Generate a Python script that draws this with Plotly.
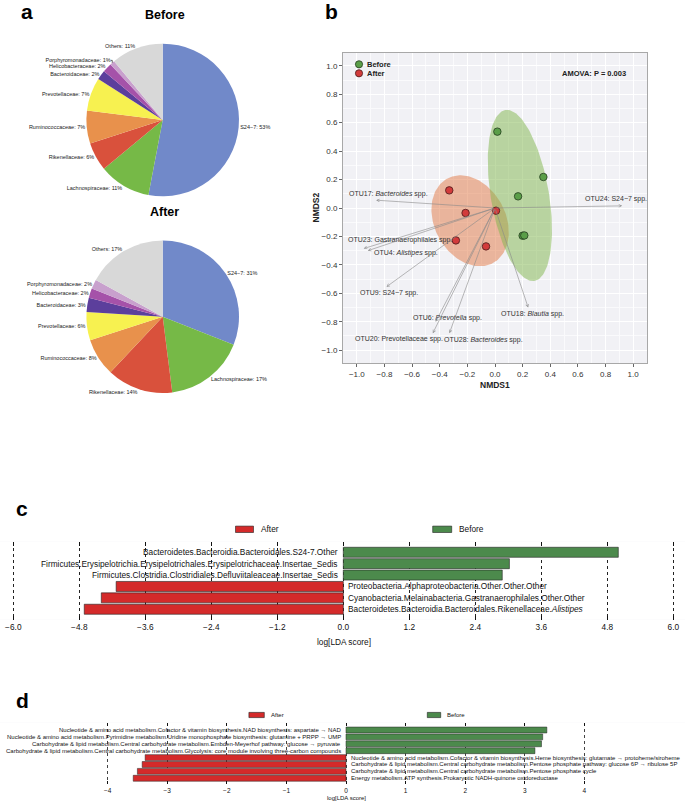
import numpy as np
import plotly.graph_objects as go

W, H = 685, 805
def px(x):
    return x / W
def py(y):
    return 1 - y / H

FONT = "Liberation Sans, Arial, sans-serif"
NARROW = "Liberation Sans Narrow, Arial Narrow, Liberation Sans, sans-serif"

# ---------------- Panel a data ----------------
pie_labels = ["S24−7", "Lachnospiraceae", "Rikenellaceae", "Ruminococcaceae", "Prevotellaceae",
              "Bacteroidaceae", "Helicobacteraceae", "Porphyromonadaceae", "Others"]
before_pct = [53, 11, 6, 7, 7, 2, 2, 1, 11]
after_pct = [31, 17, 14, 8, 6, 3, 2, 2, 17]
pie_colors = ["#7189C9", "#76B947", "#D9513C", "#E8914C", "#F7F150",
              "#5C3F9C", "#A552A9", "#C8A0CD", "#D8D8D8"]

# ---------------- Panel b data ----------------
before_x = [0.017, 0.350, 0.167, 0.200, 0.212]
before_y = [0.537, 0.218, 0.082, -0.195, -0.193]
after_x = [-0.331, -0.213, 0.007, -0.283, -0.065]
after_y = [0.124, -0.035, -0.019, -0.228, -0.270]

otu_names = ["OTU17: <i>Bacteroides</i> spp.", "OTU24: S24−7 spp.", "OTU23: Gastranaerophilales spp.",
             "OTU4: <i>Alistipes</i> spp.", "OTU9: S24−7 spp.", "OTU6: <i>Prevotella</i> spp.",
             "OTU20: Prevotellaceae spp.", "OTU28: <i>Bacteroides</i> spp.", "OTU18: <i>Blautia</i> spp."]
otu_x = [-0.86, 0.92, -0.95, -0.92, -0.785, -0.43, -0.45, -0.33, 0.24]
otu_y = [0.055, 0.015, -0.285, -0.300, -0.554, -0.800, -0.880, -0.880, -0.700]
otu_label_x = [-1.07, 0.64, -1.075, -0.89, -0.99, -0.61, -1.03, -0.386, 0.03]
otu_label_y = [0.10, 0.063, -0.225, -0.32, -0.596, -0.777, -0.918, -0.93, -0.742]

# ellipse parameters: centre x, centre y, semi-major, semi-minor, angle (deg)
ell_before = [0.18, 0.088, 0.61, 0.21, 100]
ell_after = [-0.18, -0.09, 0.34, 0.255, 121]

# ---------------- Panel c data ----------------
lda_taxa = ["Bacteroidetes.Bacteroidia.Bacteroidales.S24-7.Other",
            "Firmicutes.Erysipelotrichia.Erysipelotrichales.Erysipelotrichaceae.Insertae_Sedis",
            "Firmicutes.Clostridia.Clostridiales.Defluviitaleaceae.Insertae_Sedis",
            "Proteobacteria.Alphaproteobacteria.Other.Other.Other",
            "Cyanobacteria.Melainabacteria.Gastranaerophilales.Other.Other",
            "Bacteroidetes.Bacteroidia.Bacteroidales.Rikenellaceae.<i>Alistipes</i>"]
lda_scores = [5.00, 3.02, 2.89, -4.13, -4.40, -4.71]
lda_ticks = [-6.0, -4.8, -3.6, -2.4, -1.2, 0.0, 1.2, 2.4, 3.6, 4.8, 6.0]

# ---------------- Panel d data ----------------
path_names = [
    "Nucleotide & amino acid metabolism.Cofactor & vitamin biosynthesis.NAD biosynthesis: aspartate → NAD",
    "Nucleotide & amino acid metabolism.Pyrimidine metabolism.Uridine monophosphate biosynthesis: glutamine + PRPP → UMP",
    "Carbohydrate & lipid metabolism.Central carbohydrate metabolism.Embden-Meyerhof pathway: glucose → pyruvate",
    "Carbohydrate & lipid metabolism.Central carbohydrate metabolism.Glycolysis: core module involving three-carbon compounds",
    "Nucleotide & amino acid metabolism.Cofactor & vitamin biosynthesis.Heme biosynthesis: glutamate → protoheme/siroheme",
    "Carbohydrate & lipid metabolism.Central carbohydrate metabolism.Pentose phosphate pathway: glucose 6P → ribulose 5P",
    "Carbohydrate & lipid metabolism.Central carbohydrate metabolism.Pentose phosphate cycle",
    "Energy metabolism.ATP synthesis.Prokaryotic NADH-quinone oxidoreductase"]
path_scores = [3.37, 3.30, 3.28, 3.17, -3.37, -3.42, -3.50, -3.57]
path_ticks = [-4, -3, -2, -1, 0, 1, 2, 3, 4]

GREEN = "#4C8A4C"
RED = "#D42A2A"

fig = go.Figure()

# ---------- Pies ----------
for vals, dom in [(before_pct, dict(x=[px(86.4), px(239)], y=[py(196.3), py(43.7)])),
                  (after_pct, dict(x=[px(86.4), px(239)], y=[py(393), py(240.4)]))]:
    fig.add_trace(go.Pie(values=vals, labels=pie_labels, sort=False, direction="clockwise",
                         rotation=0, domain=dom, textposition="outside",
                         texttemplate="%{label}: %{value}%",
                         textfont=dict(size=5.5, color="#222", family=FONT),
                         marker=dict(colors=pie_colors, line=dict(width=0)),
                         showlegend=False, hoverinfo="skip"))

# ---------- NMDS ----------
def ellipse_xy(p, n=160):
    cx, cy, a, b, ang = p
    t = np.linspace(0, 2 * np.pi, n)
    th = np.radians(ang)
    x = cx + a * np.cos(t) * np.cos(th) - b * np.sin(t) * np.sin(th)
    y = cy + a * np.cos(t) * np.sin(th) + b * np.sin(t) * np.cos(th)
    return x, y

ex, ey = ellipse_xy(ell_after)
fig.add_trace(go.Scatter(x=ex, y=ey, fill="toself", mode="lines", line=dict(width=0),
                         fillcolor="rgba(225,119,67,0.5)", showlegend=False, hoverinfo="skip",
                         xaxis="x", yaxis="y"))
ex, ey = ellipse_xy(ell_before)
fig.add_trace(go.Scatter(x=ex, y=ey, fill="toself", mode="lines", line=dict(width=0),
                         fillcolor="rgba(127,181,75,0.5)", showlegend=False, hoverinfo="skip",
                         xaxis="x", yaxis="y"))
fig.add_trace(go.Scatter(x=before_x, y=before_y, mode="markers",
                         marker=dict(size=7.5, color="#5A9E48", line=dict(color="#263D20", width=0.8)),
                         showlegend=False, xaxis="x", yaxis="y"))
fig.add_trace(go.Scatter(x=after_x, y=after_y, mode="markers",
                         marker=dict(size=7.5, color="#D23B3B", line=dict(color="#4A1A1A", width=0.8)),
                         showlegend=False, xaxis="x", yaxis="y"))

# ---------- LDA bars (c) ----------
c_idx = list(range(len(lda_taxa)))
fig.add_trace(go.Bar(x=lda_scores, y=c_idx, orientation="h", width=0.88,
                     marker=dict(color=[GREEN if v > 0 else RED for v in lda_scores],
                                 line=dict(color="#222", width=0.6)),
                     showlegend=False, xaxis="x2", yaxis="y2", hoverinfo="skip"))
# ---------- LDA bars (d) ----------
d_idx = list(range(len(path_names)))
fig.add_trace(go.Bar(x=path_scores, y=d_idx, orientation="h", width=0.86,
                     marker=dict(color=[GREEN if v > 0 else RED for v in path_scores],
                                 line=dict(color="#222", width=0.5)),
                     showlegend=False, xaxis="x3", yaxis="y3", hoverinfo="skip"))

ann = []
shapes = []

def pann(text, x, y, size, xanchor="center", bold=False, family=FONT, color="#222", angle=0):
    ann.append(dict(text=f"<b>{text}</b>" if bold else text, x=px(x), y=py(y),
                    xref="paper", yref="paper", xanchor=xanchor, yanchor="middle",
                    showarrow=False, textangle=angle,
                    font=dict(size=size, family=family, color=color)))

# panel letters and pie titles
for t, x, y in [("a", 27, 12), ("b", 331, 12), ("c", 22, 508), ("d", 22, 700)]:
    pann(t, x, y, 21, bold=True, color="black")
pann("Before", 165, 15, 12.5, bold=True, color="black")
pann("After", 164, 212, 12.5, bold=True, color="black")

# biplot arrows and labels
for nm, hx, hy, lx, ly in zip(otu_names, otu_x, otu_y, otu_label_x, otu_label_y):
    ann.append(dict(x=hx, y=hy, ax=0, ay=0, xref="x", yref="y", axref="x", ayref="y",
                    showarrow=True, arrowhead=5, arrowsize=0.9, arrowwidth=0.6,
                    arrowcolor="#8A8A8A", text="", standoff=0, startstandoff=0))
    ann.append(dict(x=lx, y=ly, xref="x", yref="y", text=nm, showarrow=False,
                    xanchor="left", yanchor="middle",
                    font=dict(size=7.0, family=FONT, color="#333")))

# NMDS legend + text
for lab, col, lc, y in [("Before", "#5A9E48", "#263D20", 64.3), ("After", "#D23B3B", "#4A1A1A", 73.3)]:
    shapes.append(dict(type="circle", xref="paper", yref="paper", xsizemode="pixel", ysizemode="pixel",
                       xanchor=px(359), yanchor=py(y), x0=-3.6, x1=3.6, y0=-3.6, y1=3.6,
                       fillcolor=col, line=dict(color=lc, width=0.8)))
    pann(lab, 365, y, 7.5, xanchor="left", bold=True)
pann("AMOVA: P = 0.003", 628, 73.3, 7.5, xanchor="right", bold=True)
pann("NMDS1", 495, 384.5, 8.5, bold=True)
pann("NMDS2", 315.5, 208, 8.5, bold=True, angle=-90)

# bar labels (c)
for i, (nm, v) in enumerate(zip(lda_taxa, lda_scores)):
    ann.append(dict(x=0, y=i, xref="x2", yref="y2", text=nm, showarrow=False,
                    xanchor="right" if v > 0 else "left", yanchor="middle",
                    xshift=-3 if v > 0 else 3,
                    font=dict(size=8.3, family=NARROW, color="#111")))
# bar labels (d)
for i, (nm, v) in enumerate(zip(path_names, path_scores)):
    ann.append(dict(x=0, y=i, xref="x3", yref="y3", text=nm, showarrow=False,
                    xanchor="right" if v > 0 else "left", yanchor="middle",
                    xshift=-3 if v > 0 else 3,
                    font=dict(size=6.0, family=FONT, color="#111")))

# legends for c and d
for (x0, x1, tx, lab, col, y, hh, fs) in [
        (235.5, 253.5, 259, "After", RED, 529.3, 3.2, 8.3),
        (432.7, 451.7, 457.3, "Before", GREEN, 529.3, 3.2, 8.3),
        (248.9, 264.3, 268.5, "After", RED, 715, 2.6, 6.0),
        (427.3, 440.7, 445, "Before", GREEN, 715, 2.6, 6.0)]:
    shapes.append(dict(type="rect", xref="paper", yref="paper", x0=px(x0), x1=px(x1),
                       y0=py(y + hh), y1=py(y - hh), fillcolor=col, line=dict(color="#222", width=0.6)))
    pann(lab, tx, y, fs, xanchor="left", family=NARROW if fs > 7 else FONT, color="#111")

pann("log[LDA score]", 344, 642, 8.3, family=NARROW, color="#111")
pann("log[LDA score]", 346, 798, 6.0, color="#111")

nmds_axis = dict(showgrid=True, gridcolor="white", gridwidth=1, zeroline=False,
                 showline=True, linecolor="#A8A8A8", linewidth=1, mirror=True,
                 ticks="outside", ticklen=3, tickcolor="#666", tickformat=".1f", dtick=0.2,
                 tickfont=dict(size=8, family=FONT, color="#333"),
                 minor=dict(dtick=0.1, showgrid=True, gridcolor="#FAFAFC", gridwidth=0.5),
                 fixedrange=True)

lda_axis = dict(showgrid=True, griddash="dot", gridwidth=0.7, zeroline=False,
                showline=True, linecolor="rgba(0,0,0,0)", mirror="ticks",
                ticks="inside", tickcolor="#111", fixedrange=True)

fig.update_layout(
    width=W, height=H, margin=dict(l=0, r=0, t=0, b=0),
    paper_bgcolor="white", plot_bgcolor="#F1F1F5",
    font=dict(family=FONT, color="#222"),
    showlegend=False,
    xaxis=dict(domain=[px(343), px(647)], range=[-1.1, 1.1], anchor="y", **nmds_axis),
    yaxis=dict(domain=[py(363), py(53)], range=[-1.09, 1.09], anchor="x", **nmds_axis),
    xaxis2=dict(domain=[0, 1], range=[-343.3 / 55, (W - 343.3) / 55], anchor="y2",
                tickvals=lda_ticks, ticktext=[f"{v:.1f}".replace("-", "−") for v in lda_ticks],
                gridcolor="#222", ticklen=4, tickwidth=1,
                tickfont=dict(size=8.3, family=NARROW, color="#111"), **lda_axis),
    yaxis2=dict(domain=[py(619.5), py(541.7)], range=[5.9, -0.93], anchor="x2", visible=False,
                fixedrange=True),
    xaxis3=dict(domain=[0, 1], range=[-346 / 59.6, (W - 346) / 59.6], anchor="y3",
                tickvals=path_ticks, ticktext=[str(v).replace("-", "−") for v in path_ticks],
                gridcolor="#444", ticklen=3, tickwidth=1,
                tickfont=dict(size=6.5, family=FONT, color="#111"), **lda_axis),
    yaxis3=dict(domain=[py(784), py(722.7)], range=[7.83, -1.06], anchor="x3", visible=False,
                fixedrange=True),
    annotations=ann, shapes=shapes,
)
# white background behind the LDA panels
fig.add_shape(type="rect", xref="x2 domain", yref="y2 domain", x0=0, x1=1, y0=0, y1=1,
              fillcolor="white", line=dict(width=0), layer="below")
fig.add_shape(type="rect", xref="x3 domain", yref="y3 domain", x0=0, x1=1, y0=0, y1=1,
              fillcolor="white", line=dict(width=0), layer="below")

fig.write_html("out.html", config={"displayModeBar": False},
               post_script="document.body.style.margin='0px';")
